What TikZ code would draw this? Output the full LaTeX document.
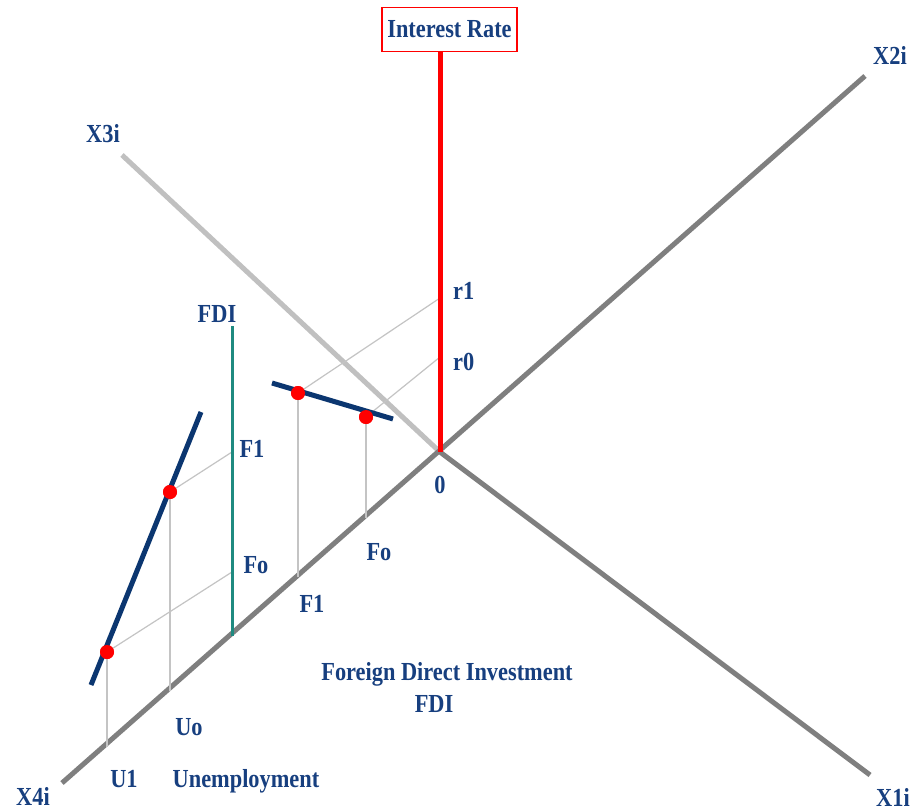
\documentclass[tikz,border=0pt]{standalone}
\usepackage{fontspec}
\setmainfont{Liberation Serif}[FakeStretch=0.86]
\definecolor{txtblue}{HTML}{173F7F}
\definecolor{curveblue}{HTML}{0B3670}
\definecolor{axisgray}{HTML}{7F7F7F}
\definecolor{lightaxis}{HTML}{C0C0C0}
\definecolor{thingray}{HTML}{C4C4C4}
\definecolor{tealline}{HTML}{1F8A80}
\begin{document}
\begin{tikzpicture}[x=1pt,y=-1pt,
  lbl/.style={font=\fontsize{26}{26}\selectfont\bfseries, text=txtblue, inner sep=0pt, anchor=base},
  mainaxis/.style={line width=5pt, draw=axisgray},
  paleaxis/.style={line width=5pt, draw=lightaxis},
  guide/.style={line width=1.2pt, draw=thingray},
  curve/.style={line width=5pt, draw=curveblue},
  dot/.style={circle, fill=red, inner sep=0pt, minimum size=14pt}]
\useasboundingbox[fill=white] (0,0) rectangle (918,810);
% axes points
\coordinate (O) at (440,452);
\coordinate (X2) at (865,76);
\coordinate (X4) at (62,783);
\coordinate (X3) at (122,155);
\coordinate (X1) at (870,775);
% ticks
\coordinate (r1t) at (440,298);
\coordinate (r0t) at (440,357);
\coordinate (Ftop) at (232,326);
\coordinate (Fbot) at (232,636);
\coordinate (F1t) at (232,452);
\coordinate (Fot) at (232,572);
\coordinate (aF1) at (298,577);
\coordinate (aFo) at (366,518);
\coordinate (aUo) at (170,691);
\coordinate (aU1) at (107,747);
% curves
\coordinate (c1a) at (272,383);
\coordinate (c1b) at (393,419);
\coordinate (c2a) at (201,412);
\coordinate (c2b) at (91,685);
% axes
\draw[paleaxis] (X3) -- (O);
\draw[mainaxis] (X4) -- (X2);
\draw[mainaxis] (O) -- (X1);
% red axis and label box
\node[draw=red, line width=1.5pt, fill=white, minimum width=135pt, minimum height=44pt, inner sep=0pt,
      font=\fontsize{26}{26}\selectfont\bfseries, text=txtblue] (IR) at (449.5,29.5) {Interest Rate};
\coordinate (redtop) at (440,52);
% dots
\node[dot] (d1) at (298,393) {};
\node[dot] (d2) at (366,417) {};
\node[dot] (d3) at (170,492) {};
\node[dot] (d4) at (107,652) {};
% guide lines
\draw[guide] (d1.center) -- (r1t);
\draw[guide] (d2.center) -- (r0t);
\draw[guide] (d1.center) -- (aF1);
\draw[guide] (d2.center) -- (aFo);
\draw[guide] (d3.center) -- (F1t);
\draw[guide] (d4.center) -- (Fot);
\draw[guide] (d3.center) -- (aUo);
\draw[guide] (d4.center) -- (aU1);
% red and teal axes
\draw[line width=5pt, draw=red] (redtop) -- (O);
\draw[line width=3pt, draw=tealline] (Ftop) -- (Fbot);
% curves
\draw[curve] (c1a) -- (c1b);
\draw[curve] (c2a) -- (c2b);
% redraw dots on top
\node[dot] at (d1) {};
\node[dot] at (d2) {};
\node[dot] at (d3) {};
\node[dot] at (d4) {};
% labels
\node[lbl] (lX2) at (890,65) {X2i};
\node[lbl] (lX1) at (893,806) {X1i};
\node[lbl] (lX3) at (103,143) {X3i};
\node[lbl] (lX4) at (33,805) {X4i};
\node[lbl, anchor=base west] (lr1) at (453,299) {r1};
\node[lbl, anchor=base west] (lr0) at (453,370) {r0};
\node[lbl] (l0) at (440,493) {0};
\node[lbl] (lFDI) at (217,323) {FDI};
\node[lbl] (lF1a) at (252,457) {F1};
\node[lbl] (lFoa) at (256,573) {Fo};
\node[lbl] (lF1b) at (312,612) {F1};
\node[lbl] (lFob) at (379,560) {Fo};
\node[lbl] (lUo) at (189,735) {Uo};
\node[lbl] (lU1) at (124,787) {U1};
\node[lbl] (lUn) at (246,787) {Unemployment};
\node[lbl] (lFDIa) at (447,680) {Foreign Direct Investment};
\node[lbl] (lFDIb) at (434,712) {FDI};
\end{tikzpicture}
\end{document}
